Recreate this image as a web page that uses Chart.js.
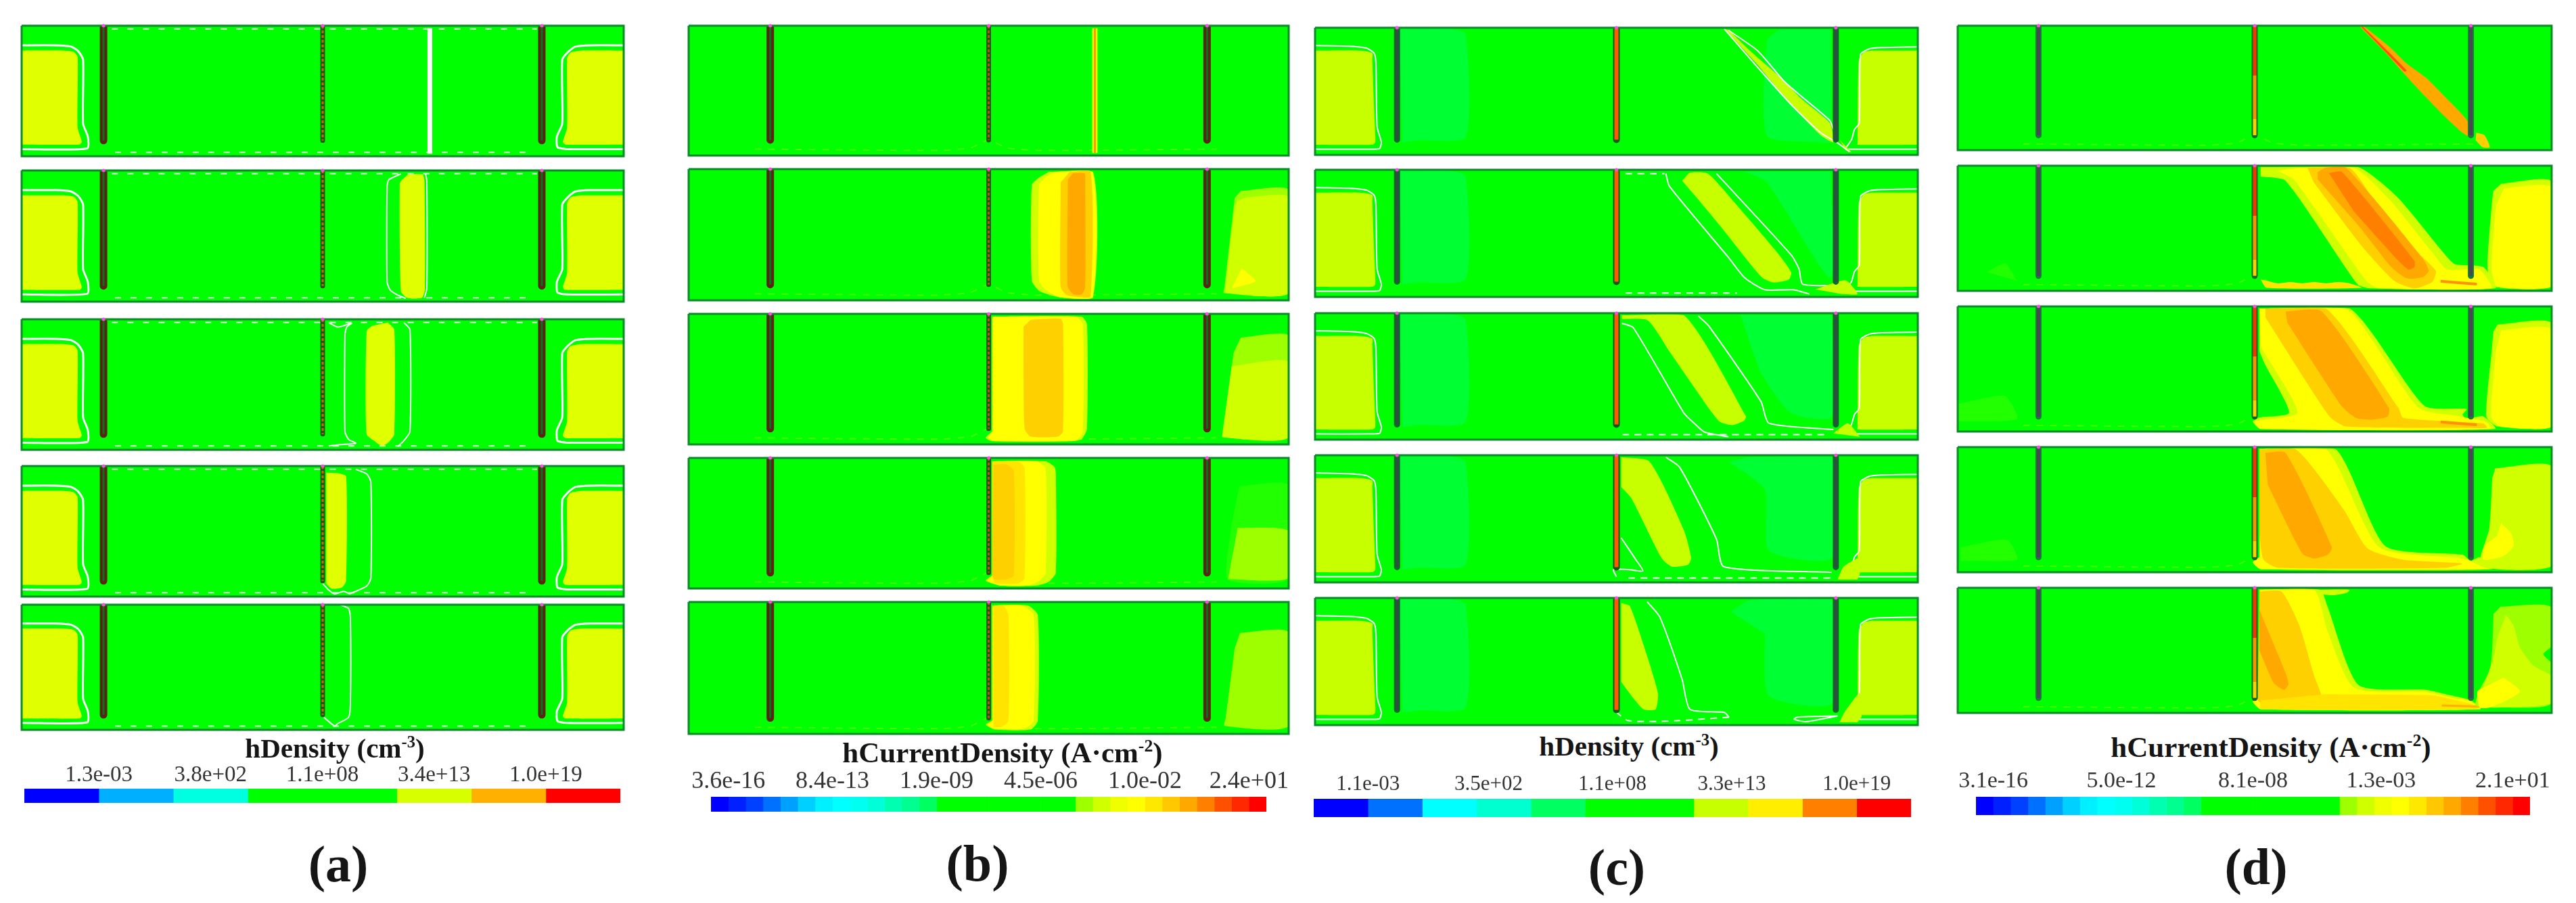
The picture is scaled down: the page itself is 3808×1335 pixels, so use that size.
<!DOCTYPE html>
<html>
<head>
<meta charset="utf-8">
<title>hDensity and hCurrentDensity</title>
<script src="https://cdn.jsdelivr.net/npm/chart.js@4/dist/chart.umd.min.js"></script>
<style>
body { margin: 0; background: #fff; width: 3808px; height: 1335px; overflow: hidden; position: relative; }
canvas { position: absolute; }
.cap { position: absolute; transform: translate(-50%, -50%); font-family: "Liberation Serif", serif; font-weight: bold; color: #151515; white-space: nowrap; }
.cap sup { font-size: 60%; line-height: 0; }
</style>
</head>
<body>
<script>
// shared device geometry, x and y in percent of the panel
var trenchX = [13.6, 50, 86.4];
var trenchDepth = 88;
var domain = [[0, 0], [100, 0], [100, 100], [0, 100], [0, 0]];
var dashTop = [[15, 2.5], [85.6, 2.5]];
var dashBot = [[15.5, 97], [84, 97]];
var faintBot = [[11, 95], [42, 96], [47, 94], [50, 88], [53, 94], [58, 96], [88, 95]];

// (a) hole density, source regions
var aSrcL = [[0, 19], [6.9, 19], [8.6, 20], [9.3, 24], [9.3, 78], [10, 89], [9.6, 91], [0, 91]];
var aSrcR = [[100, 19], [93, 19], [91.2, 20.5], [90.6, 25], [90.6, 78], [89.9, 89], [90.3, 91], [100, 91]];
var aCtrL = [[0, 15], [5.6, 15], [8.2, 16], [9.4, 19.5], [10.2, 26], [10.2, 75], [11, 85], [10.9, 94], [0, 94.5]];
var aCtrR = [[100, 15], [94.5, 15], [92, 16], [90.9, 19.5], [89.8, 26], [89.8, 75], [88.9, 85], [89, 93], [90.5, 94.5], [100, 94.5]];
var a1Strike = [[67.8, 2], [67.8, 98]];
var a2Fill = [[64.2, 3], [66.6, 3], [66.9, 8], [67, 90], [66.5, 97], [64, 97], [63, 92], [62.8, 10], [63.2, 7]];
var a2CtrL = [[63, 2.6], [61, 7], [60.7, 12], [60.7, 85], [61.2, 91], [62.5, 95], [63.8, 97.5]];
var a2CtrR = [[67.1, 2.6], [67.3, 8], [67.3, 90], [66.9, 97]];
var a3Fill = [[60.8, 2.5], [61.9, 8], [61.9, 88], [61, 94], [59.9, 97], [58.8, 94], [57.3, 88], [57.3, 9], [58.2, 5]];
var a3CtrL = [[51, 2.5], [52.5, 6], [54.8, 3], [54, 6], [53.7, 12], [53.7, 86], [54.3, 92], [55.5, 95], [53, 96], [51, 97]];
var a3CtrR = [[63.5, 2.5], [64.5, 8], [64.5, 86], [63.5, 93], [62.5, 97.5]];
var a4Fill = [[50.6, 5], [52.5, 5.5], [53.9, 8], [53.9, 88], [53.2, 93], [51.5, 94], [50.6, 90]];
var a4CtrR = [[55.5, 2.5], [57.3, 6], [58, 12], [58, 86], [57.3, 92], [55.5, 96], [54.5, 98]];
var a4CtrL = [[50, 90], [51, 95], [52, 98], [53.5, 96], [54.5, 98]];
var a5Ctr = [[52.9, 0], [54.3, 3], [54.6, 10], [54.6, 80], [54.3, 90], [52.5, 95], [52, 97], [50.2, 90]];

// (b) hole current density
var b1Outer = [[67.7, 2], [67.7, 98]];
var b2Lime = [[60, 2.2], [67.4, 2.2], [67.4, 97.8], [62, 97.8], [58.5, 93], [57.2, 85], [57.2, 12], [58.5, 6]];
var b2Yel = [[61, 2.2], [67.3, 2.2], [67.3, 97.8], [62, 97.8], [59.5, 92], [58.4, 85], [58.4, 12], [59.5, 6]];
var b2Gold = [[63.5, 2.2], [67, 2.4], [67, 97], [65, 97.5], [63, 96], [62, 90], [62, 10]];
var b2Org = [[64, 3.3], [66, 3.3], [66.1, 8], [66.1, 90], [65.5, 95.5], [64.2, 95.5], [63.2, 90], [63.2, 8]];
var b2Drain = [[92, 16.7], [100, 16], [100, 94.5], [89.2, 94.5], [89.3, 90], [90.8, 30], [91, 22]];
var b2DrainIn = [[93, 21.5], [100, 21.5], [100, 94.5], [89.5, 94.5], [89.5, 90], [91, 30], [91.5, 24]];
var b2Blob = [[92.2, 75.5], [94.5, 85.5], [90.5, 91]];
var b3Lime = [[50.6, 2.2], [65.5, 2.2], [66.4, 8], [66.4, 88], [65.5, 96], [64, 97.5], [50.5, 97.5], [49.5, 95], [50.6, 90]];
var b3Yel = [[50.6, 2.2], [64.5, 2.2], [65.7, 8], [65.7, 90], [64.5, 97], [51, 97.5], [50, 95], [50.6, 90]];
var b3Gold = [[57, 4.5], [62, 3.8], [62.4, 8], [62.4, 90], [61.5, 94], [57, 94], [56, 88], [55.8, 10]];
var b3Drain = [[92, 18.2], [100, 17], [100, 94.5], [89.2, 94.5], [89.2, 90], [90.8, 30]];
var b3DrainIn = [[90.5, 40], [100, 37], [100, 94.5], [89, 94.5], [89, 90]];
var b4Lime = [[50.6, 2.6], [59.5, 2.6], [61, 7], [61.2, 12], [61.2, 88], [60, 95], [58, 97.8], [52, 97.8], [49.5, 94], [50.6, 90]];
var b4Yel = [[50.6, 2.6], [58, 2.6], [59.5, 8], [59.5, 88], [58.5, 94], [56.5, 97.8], [52, 97.8], [49.8, 94], [50.6, 90]];
var b4Mid = [[50.6, 3], [55, 3], [56, 8], [56, 92], [55, 96], [51, 96], [50.6, 90]];
var b4Gold = [[50.8, 5], [53, 5], [54.2, 10], [54.2, 90], [53, 93], [51, 93], [50.6, 90]];
var b4Drain = [[91.8, 21.5], [100, 21], [100, 92.5], [89.9, 93], [90.5, 50]];
var b4DrainIn = [[91.5, 53.5], [100, 56], [100, 92], [89.9, 93]];
var b5Lime = [[50.6, 2.6], [56.5, 2.6], [58.2, 10], [58.2, 90], [57, 96.7], [51, 96.7], [49.5, 93], [50.6, 90]];
var b5Yel = [[50.6, 2.6], [55.5, 2.6], [57.5, 10], [57.5, 90], [56, 96], [51, 96], [49.8, 93], [50.6, 90]];
var b5Mid = [[50.8, 3], [52.5, 3], [53.3, 10], [53.3, 90], [52, 95], [50.8, 95]];
var b5Drain = [[91.9, 23.4], [100, 23], [100, 94], [89.3, 94], [89.5, 88], [91, 35]];

// (c) hole density, heavier channel
var cSrcL = [[0, 18], [7.5, 18], [9.5, 20], [9.5, 25], [9.9, 75], [10, 90], [9.5, 92], [0, 92]];
var cSrcR = [[100, 18], [92.5, 18], [91, 19.5], [90.2, 26], [90, 90], [90, 92], [100, 92]];
var cCtrL = [[0, 14], [5.5, 14.5], [8.5, 16], [9.8, 20], [10.1, 28], [10.3, 78], [11, 90], [10.7, 95], [9, 95.5], [0, 95.5]];
var cCtrR = [[100, 15], [94, 15.5], [92, 16.5], [90.5, 21], [90.3, 75], [89.5, 80], [89, 88], [88, 95]];
var cCtrRb = [[88.5, 95.5], [100, 95.5]];
var cBandL = [[14, 1], [22.5, 1], [25, 5], [25, 86], [17, 88.5], [14.5, 90]];
var c1BandR = [[77, 1.5], [75, 10], [75, 85], [84, 90], [85.5, 90], [85.5, 1.5]];
var c2BandR = [[71.3, 1.5], [75, 10], [85.5, 85], [85.5, 1.5]];
var c3BandR = [[70.6, 1.5], [74, 47], [79, 79], [85.7, 82], [85.7, 1.5]];
var c4BandR = [[68.6, 5], [74.6, 27], [75.3, 75], [85.7, 81], [85.7, 1.5], [72, 1.5]];
var c5BandR = [[69, 11], [72, 2], [85.7, 1.5], [85.7, 83], [75.3, 77], [74.6, 28]];
var c1Fill = [[68, 1], [68.6, 2], [72.6, 20], [77.4, 40], [80.7, 56], [85.4, 75], [86, 90], [84, 85], [78.7, 59], [73.4, 29]];
var c1Tail = [[87, 88], [89, 98], [88, 96]];
var c1CtrL = [[67.9, 1], [73.4, 31], [79.3, 62], [84, 83], [86.5, 90], [88.7, 97.7]];
var c1CtrR = [[68.6, 2], [73.4, 18], [77.8, 42], [80.7, 54], [85.4, 73], [86, 80]];
var c2Fill = [[60.9, 8.7], [62.2, 2.3], [65.2, 3], [69.6, 25.8], [76.6, 64.6], [79, 80.6], [78.6, 86.3], [76, 88.6], [74, 84], [67.2, 44], [63.6, 23.5]];
var c2CtrL = [[58.2, 3], [58.8, 13], [68.6, 69], [71.3, 85], [74.6, 94.3], [79.3, 94.3], [82, 97.7]];
var c2CtrR = [[66.6, 3], [79, 67], [80.3, 78], [80.9, 90], [86, 91]];
var c2Tail = [[83, 94], [88, 87], [90, 97.7], [87.4, 97.7]];
var c2Wig = [[51.5, 3], [58, 3]];
var c2WigB = [[51.5, 97], [70, 97]];
var c3Fill = [[50.9, 1.6], [61.2, 1.6], [71.5, 81.6], [71.2, 85], [69.2, 88.5], [67.2, 86], [65.6, 77], [58.9, 31], [55.2, 5.7], [50.9, 4.6]];
var c3CtrL = [[50.9, 8], [52.8, 11.5], [61.2, 79], [62.9, 87], [64.6, 94], [68.6, 97.7]];
var c3CtrR = [[63.6, 2.3], [65.3, 10], [74, 70], [75.3, 87], [86, 92]];
var c3Tail = [[86, 95], [88.4, 87], [90.4, 97.7]];
var c3WigB = [[51, 96], [85, 96]];
var c4Fill = [[50.8, 1.6], [55.5, 5], [61.2, 59], [62.4, 80.8], [61.9, 86], [59.2, 87.6], [57.5, 81], [52.5, 34], [50.8, 25]];
var c4CtrR = [[58.2, 1.6], [60.5, 9.5], [66.6, 66], [67.8, 87.6], [85.7, 92]];
var c4CtrS = [[50.8, 65], [53.2, 82], [54.4, 91], [52.2, 90], [49.5, 90], [50, 95.5]];
var c4WigB = [[52, 96.5], [86, 96.5]];
var c4Tail = [[86.7, 97.7], [87.7, 87.6], [90.4, 80.8], [90.4, 93], [90, 97.7]];
var c5Fill = [[50.8, 4], [52.2, 6.3], [54.5, 37], [56.9, 75], [56.5, 87.6], [54.5, 87.6], [52.5, 77], [50.8, 66]];
var c5CtrR = [[55.1, 3], [57.2, 15], [60.9, 64], [62.2, 87.6], [67.9, 90], [68.7, 93.7]];
var c5WigB = [[68.7, 93.7], [60, 96.6], [52, 96.6], [50, 90]];
var c5CtrB = [[86.7, 92.8], [80, 93.7], [79.5, 95.4], [81.4, 97.3], [86.7, 92.8]];
var c5Tail = [[87, 97.7], [88, 88.7], [90.4, 75], [90.7, 93], [90, 97.7]];

// (d) hole current density, heavier channel
var d1Org = [[67.7, 0.7], [68.4, 0.7], [72.8, 17.4], [75.5, 30], [78.9, 42], [81.6, 55], [85.7, 75.6], [86.4, 89.5], [85, 86], [81.6, 71], [76.9, 47.7], [72.1, 22]];
var d1Red = [[67.9, 0.7], [68.2, 0.7], [75.6, 36], [75.2, 37]];
var d1Tail = [[87.3, 86], [88.7, 88], [89.6, 97.7], [88.4, 97.7], [87.2, 92]];
var d2Lime = [[51, 8.6], [55.2, 12], [67.3, 94.6], [69.4, 98], [90.5, 98], [88.5, 81], [83.7, 78.6], [81.7, 69], [74, 25], [67.3, 1], [51, 1]];
var d2Yel = [[53.8, 4], [56.6, 11], [68.8, 92], [70.9, 98], [89.8, 98], [87.8, 83], [82.4, 83], [80.2, 71], [72.7, 27], [66.7, 1.6], [57.2, 1.6]];
var d2Gold = [[58.9, 1.6], [66, 1.6], [70.7, 32], [77.4, 69], [80.5, 84], [79.9, 93], [76.9, 98], [73.5, 92], [68, 64], [59.9, 13]];
var d2Org = [[60.6, 5], [62, 1.6], [65.4, 1.6], [78.3, 74], [79.3, 84], [78.3, 89], [75.6, 90], [73, 81], [67.5, 48], [60.6, 11]];
var d2Core = [[62.5, 6], [64.7, 5], [76.9, 76], [76.9, 81], [75.9, 83], [74.2, 76], [66.7, 36.5]];
var d2Drain = [[91.5, 14.4], [100, 12.8], [100, 96.5], [90.2, 96.5], [89.2, 81], [89.9, 32], [90.2, 20]];
var d2DrainIn = [[92, 18], [100, 17.5], [100, 96.5], [90.8, 96.5], [89.9, 81], [90.6, 32]];
var d2Bot = [[51, 91], [52, 97.5], [68, 97.5], [66, 94], [64, 93], [62, 94], [60, 93], [58, 94], [56, 93], [54, 94], [52, 92]];
var d2Streak = [[81.3, 92.3], [87.4, 94.6]];
var d2Faint = [[4.9, 85], [8, 78], [10, 92]];
var d3Lime = [[50.8, 1.6], [66, 1.6], [78.6, 79.5], [85.7, 82], [85, 86.5], [85.7, 90], [88.4, 87.7], [90.5, 98], [51, 98], [49.7, 92], [50.8, 88.8], [55.8, 85], [51.7, 46], [50.8, 36]];
var d3Yel = [[50.8, 1.6], [65.4, 1.6], [77.6, 81], [84.3, 87.7], [89, 92.3], [89.8, 98], [51, 98], [50, 92], [57.2, 85], [51, 32]];
var d3Gold = [[51.8, 1.6], [62, 1.6], [74.2, 81], [75, 89], [88.5, 93.5], [89.1, 97], [85, 97], [65.4, 96], [62.6, 88], [51.8, 8.6]];
var d3Org = [[55.2, 4], [61.3, 4], [72.6, 81], [72.4, 88], [69.7, 90.5], [67, 89], [64.6, 79.5], [55.5, 13]];
var d3Drain = [[90.9, 14.4], [100, 13.5], [100, 96], [90.9, 96], [89, 88], [89.9, 36], [90.2, 20]];
var d3DrainIn = [[91.5, 19], [100, 18.5], [100, 96], [91.4, 96], [89.8, 88], [90.6, 36]];
var d3Faint = [[0, 78], [7.9, 71.4], [10, 90], [0, 92]];
var d4Lime = [[50.8, 1.5], [63.6, 1.5], [72, 79], [85, 86], [86.4, 91], [87.8, 88], [90, 97.5], [51, 97.5], [49.7, 92], [50.8, 88]];
var d4Yel = [[50.8, 1.5], [62, 1.5], [71, 80], [85, 89], [89, 96.5], [89.5, 97.5], [51, 97.5], [49.7, 92], [50.8, 88]];
var d4Gold = [[50.8, 2], [57, 2], [65, 50], [69, 81], [75, 90], [85, 93], [82, 96.5], [54, 96.5], [51.5, 90], [50.8, 70]];
var d4Org = [[51.8, 4.6], [55.2, 4.6], [63, 80], [62.3, 86], [60, 89], [58, 85], [52.2, 30]];
var d4Drain = [[90.5, 17], [100, 15.5], [100, 95], [88, 95], [89.5, 65], [90, 25]];
var d4Blob = [[91.5, 61], [93.2, 69], [93.6, 79], [91.9, 87], [88.5, 90], [88.8, 79], [90.8, 71]];
var d4Faint = [[0.5, 80], [8.3, 74], [10, 90], [0.5, 91]];
var d5Top = [[61, 1.6], [66, 1.6], [65.5, 4], [63, 6], [61, 5]];
var d5Lime = [[50.8, 1.5], [61, 1.5], [62.2, 14], [67.5, 77.7], [78.8, 81.5], [83, 86], [86.4, 90], [88, 97], [51, 97], [49.7, 91], [50.8, 88]];
var d5Yel = [[50.8, 1.5], [60, 1.5], [62.2, 33.7], [66.7, 79.8], [78.8, 83.3], [83, 87.8], [86, 90], [88, 97], [51, 97], [49.7, 91], [50.8, 88]];
var d5Gold = [[50.8, 3], [54.5, 3], [57.5, 30], [60, 70], [61.3, 88], [60, 93], [52, 95], [50.5, 90]];
var d5Band = [[62, 85], [80, 86], [84, 90], [88, 95], [87, 97], [51, 97], [51, 90]];
var d5Org = [[50.8, 17.7], [51.8, 29], [55.2, 68], [55.7, 77], [54.9, 81.6], [53.2, 76], [50.8, 50]];
var d5Streak = [[81.5, 94], [87.9, 95]];
var d5Drain = [[91.4, 15], [100, 16], [100, 92], [91.7, 95.7], [87.2, 94], [87.9, 81.6], [89.6, 65.6], [90, 48], [90.2, 21]];
var d5Peak = [[92.3, 21.3], [93.6, 30], [94.7, 48], [96.9, 62], [100, 71], [100, 92], [91.7, 95.7], [87.6, 94], [88.4, 81], [90.2, 56], [90.9, 39]];
var d5Hole = [[100, 47], [98.6, 53], [100, 60]];
var d5Blob = [[91.9, 71.8], [94.7, 82.4], [93, 88.7], [89.6, 95.7], [87.9, 95.7], [87.5, 83], [89.3, 78]];

// colour bars: band colours, tick places in band units and tick labels
var barColorsA = ['#0000ff', '#00b0ff', '#00ffe0', '#00ff00', '#00ff00', '#d8ff00', '#ffb000', '#ff0000'];
var tickPosA = [1, 2.5, 4, 5.5, 7];
var tickLabelsA = ['1.3e-03', '3.8e+02', '1.1e+08', '3.4e+13', '1.0e+19'];
var barColorsB = ['#0000ff', '#0020ff', '#0040ff', '#0070ff', '#00a0ff', '#00d0ff', '#00f0ff', '#00ffff', '#00fff0', '#00ffd8', '#00ffb0', '#00ff90', '#00ff60',
    '#00ff00', '#00ff00', '#00ff00', '#00ff00', '#00ff00', '#00ff00', '#00ff00', '#00ff00',
    '#9dff00', '#d0ff00', '#f0ff00', '#ffff00', '#ffe800', '#ffc800', '#ffa800', '#ff8000', '#ff5000', '#ff2800', '#ff0000'];
var tickPosB = [1, 7, 13, 19, 25, 31];
var tickLabelsB = ['3.6e-16', '8.4e-13', '1.9e-09', '4.5e-06', '1.0e-02', '2.4e+01'];
var barColorsC = ['#0000ff', '#0070ff', '#00ffff', '#00ffd0', '#00ff60', '#00ff00', '#00ff00', '#c8ff00', '#ffee00', '#ff8000', '#ff0000'];
var tickPosC = [1, 3.22, 5.5, 7.7, 10];
var tickLabelsC = ['1.1e-03', '3.5e+02', '1.1e+08', '3.3e+13', '1.0e+19'];
var tickPosD = [1, 8.4, 16, 23.4, 31];
var tickLabelsD = ['3.1e-16', '5.0e-12', '8.1e-08', '1.3e-03', '2.1e+01'];

// layout in page pixels
var colLeft = [31, 1017, 1943, 2893];
var colWidth = [892, 889, 893, 880];
var tops = [[37, 251, 471, 688, 893], [37, 249, 463, 676, 889], [40, 250, 462, 672, 883], [37, 244, 452, 660, 868]];
var bottoms = [[232, 447, 666, 883, 1080], [231, 445, 658, 871, 1086], [230, 440, 651, 862, 1073], [223, 431, 639, 847, 1055]];

var GREEN = '#00ff00', WHITE = '#ffffff';
var LIME = '#9dff00', LEMON = '#d0ff00', YEL = '#ffff00', MID = '#ffe400', GOLD = '#ffd000', ORG = '#ffa800', CORE = '#ff7f00';
var SRC_A = '#e0ff00', SRC_C = '#c8ff00', BAND = '#00ff33', FAINT = '#22ff00';

function F(arr, color) { return { pts: arr, color: color, filled: true }; }
function L(arr, color, width, dash) { return { pts: arr, color: color || WHITE, width: width || 2, dash: dash }; }

var polygonFill = {
    id: 'polygonFill',
    beforeDatasetDraw: function (chart, args) {
        var ds = chart.data.datasets[args.index];
        if (!ds.polyColor) return;
        var ctx = chart.ctx, a = chart.chartArea, line = args.meta.dataset;
        ctx.save();
        ctx.beginPath();
        ctx.rect(a.left, a.top, a.width, a.height);
        ctx.clip();
        line.updateControlPoints(a, 'x');
        ctx.beginPath();
        line.path(ctx);
        ctx.closePath();
        ctx.fillStyle = ds.polyColor;
        ctx.fill();
        ctx.restore();
    }
};

var trenchStyles = [
    { side: ['#5c2410', '#0a7020', 11, 3], mid: ['#1a5a10', '#c86a00', 7, 3, [4, 3]] },
    { side: ['#5c2410', '#0a7020', 11, 3], mid: ['#1a5a10', '#c0500a', 7, 3, [4, 3]] },
    { side: ['#0a6a2a', '#2f4f3f', 9, 5], mid: ['#0a5a1a', '#ff5a00', 10, 6] },
    { side: ['#1a7a3a', '#444a50', 9, 5], mid: ['#0a6a2a', '#ff8a00', 9, 5] }
];

function addCanvas(left, top, w, h) {
    var c = document.createElement('canvas');
    c.width = w;
    c.height = h;
    c.style.left = left + 'px';
    c.style.top = top + 'px';
    c.style.width = w + 'px';
    c.style.height = h + 'px';
    document.body.appendChild(c);
    return c;
}

function drawPanel(col, row, layers) {
    var pad = 5, inset = 1;
    var x0 = colLeft[col], y0 = tops[col][row], w = colWidth[col], h = bottoms[col][row] - y0;
    var c = addCanvas(x0 - pad, y0 - pad, w + pad * 2, h + pad * 2);
    var sets = [];

    function push(layer, tension, extra) {
        var ds = {
            data: layer.pts.map(function (p) { return { x: p[0], y: p[1] }; }),
            showLine: true,
            pointRadius: 0,
            tension: tension,
            borderWidth: layer.filled ? 0 : layer.width,
            borderColor: layer.filled ? 'transparent' : layer.color,
            borderDash: layer.dash || []
        };
        if (layer.filled) ds.polyColor = layer.color;
        sets.push(Object.assign(ds, extra || {}));
    }

    push(F(domain, GREEN), 0);
    layers.forEach(function (l) { push(l, 0.2); });

    // trenches go on top of the contours
    var st = trenchStyles[col];
    trenchX.forEach(function (tx, i) {
        var s = i === 1 ? st.mid : st.side;
        var seg = [[tx, 0], [tx, trenchDepth]];
        push(L(seg, s[0], s[2]), 0, { borderCapStyle: 'round' });
        if (col === 3 && i === 1) {
            push(L([[tx, 0], [tx, 40]], '#ff3000', s[3]), 0);
            push(L([[tx, 40], [tx, 75]], '#ff9000', s[3]), 0);
            push(L([[tx, 75], [tx, trenchDepth]], '#ffd000', s[3]), 0);
        } else {
            push(L(seg, s[1], s[3], s[4]), 0);
        }
    });

    // outline of the device and the small contact marks
    sets.push({ data: domain.map(function (p) { return { x: p[0], y: p[1] }; }), showLine: true, pointRadius: 0,
        borderColor: '#0a8a28', borderWidth: 3, clip: false, tension: 0 });
    sets.push({ data: trenchX.map(function (tx) { return { x: tx, y: 0 }; }), showLine: false, pointRadius: 2.5,
        backgroundColor: '#ff4ce0', borderWidth: 0, clip: false });

    return new Chart(c, {
        type: 'scatter',
        data: { datasets: sets.reverse() }, // first dataset is drawn last
        options: {
            responsive: false,
            animation: false,
            layout: { padding: pad + inset },
            plugins: { legend: { display: false }, tooltip: { enabled: false } },
            scales: {
                x: { display: false, min: 0, max: 100 },
                y: { display: false, min: 0, max: 100, reverse: true }
            }
        },
        plugins: [polygonFill]
    });
}

function drawBar(left, top, w, h, colors, tickPos, tickLabels, fontPx, tickPad) {
    var side = 130, axisH = 46;
    var c = addCanvas(left - side, top - axisH, w + side * 2, h + axisH);
    new Chart(c, {
        type: 'bar',
        data: {
            labels: [''],
            datasets: colors.map(function (col) {
                return { data: [1], backgroundColor: col, borderWidth: 0, barPercentage: 1, categoryPercentage: 1, stack: 'bar' };
            })
        },
        options: {
            indexAxis: 'y',
            responsive: false,
            animation: false,
            layout: { padding: { left: side, right: side, top: 0, bottom: 0 } },
            plugins: { legend: { display: false }, tooltip: { enabled: false } },
            scales: {
                y: { display: false, stacked: true },
                x: {
                    stacked: true,
                    position: 'top',
                    min: 0,
                    max: colors.length,
                    grid: { display: false, drawTicks: false },
                    border: { display: false },
                    afterFit: function (s) { s.height = axisH; },
                    afterBuildTicks: function (s) { s.ticks = tickPos.map(function (v) { return { value: v }; }); },
                    ticks: {
                        autoSkip: false,
                        maxRotation: 0,
                        padding: tickPad,
                        color: '#333',
                        font: { family: 'Liberation Serif', size: fontPx },
                        callback: function (v, i) { return tickLabels[i]; }
                    }
                }
            }
        }
    });
}

function caption(html, cx, cy, px) {
    var d = document.createElement('div');
    d.className = 'cap';
    d.innerHTML = html;
    d.style.left = cx + 'px';
    d.style.top = cy + 'px';
    d.style.fontSize = px + 'px';
    document.body.appendChild(d);
}

// white contour sets that repeat across a column
function aBase() {
    return [F(aSrcL, SRC_A), F(aSrcR, SRC_A), L(aCtrL, WHITE, 3), L(aCtrR, WHITE, 3), L(dashBot, '#d8ffd8', 2, [9, 14])];
}
function cBase(bandR) {
    return [F(cBandL, BAND), F(bandR, BAND), F(cSrcL, SRC_C), F(cSrcR, SRC_C), L(cCtrL), L(cCtrR), L(cCtrRb)];
}
var faint = L(faintBot, '#44ff00', 2, [10, 10]);

drawPanel(0, 0, aBase().concat([L(dashTop, '#d8ffd8', 2, [9, 14]), L(a1Strike, WHITE, 7)]));
drawPanel(0, 1, aBase().concat([L(dashTop, '#d8ffd8', 2, [9, 14]), F(a2Fill, SRC_A), L(a2CtrL), L(a2CtrR)]));
drawPanel(0, 2, aBase().concat([L(dashTop, '#d8ffd8', 2, [9, 14]), F(a3Fill, SRC_A), L(a3CtrL), L(a3CtrR)]));
drawPanel(0, 3, aBase().concat([L(dashTop, '#d8ffd8', 2, [9, 14]), F(a4Fill, SRC_A), L(a4CtrR), L(a4CtrL)]));
drawPanel(0, 4, aBase().concat([L(a5Ctr)]));

drawPanel(1, 0, [faint, L(b1Outer, '#e8ff00', 8), L(b1Outer, '#ff9900', 3)]);
drawPanel(1, 1, [faint, F(b2Lime, LEMON), F(b2Yel, YEL), F(b2Gold, GOLD), F(b2Org, ORG), F(b2Drain, LIME), F(b2DrainIn, LEMON), F(b2Blob, YEL)]);
drawPanel(1, 2, [faint, F(b3Lime, LEMON), F(b3Yel, YEL), F(b3Gold, GOLD), F(b3Drain, LIME), F(b3DrainIn, LEMON)]);
drawPanel(1, 3, [faint, F(b4Lime, LEMON), F(b4Yel, YEL), F(b4Mid, MID), F(b4Gold, GOLD), F(b4Drain, '#22ff00'), F(b4DrainIn, LIME)]);
drawPanel(1, 4, [faint, F(b5Lime, LEMON), F(b5Yel, YEL), F(b5Mid, MID), F(b5Drain, LIME)]);

drawPanel(2, 0, cBase(c1BandR).concat([F(c1Fill, SRC_C), F(c1Tail, SRC_C), L(c1CtrL), L(c1CtrR)]));
drawPanel(2, 1, cBase(c2BandR).concat([F(c2Fill, SRC_C), L(c2CtrL), L(c2CtrR), F(c2Tail, SRC_C), L(c2Wig, WHITE, 2, [10, 8]), L(c2WigB, WHITE, 2, [10, 8])]));
drawPanel(2, 2, cBase(c3BandR).concat([F(c3Fill, SRC_C), L(c3CtrL), L(c3CtrR), F(c3Tail, SRC_C), L(c3WigB, WHITE, 2, [10, 8])]));
drawPanel(2, 3, cBase(c4BandR).concat([F(c4Fill, SRC_C), L(c4CtrR), L(c4CtrS), L(c4WigB, WHITE, 2, [10, 8]), F(c4Tail, SRC_C)]));
drawPanel(2, 4, cBase(c5BandR).concat([F(c5Fill, SRC_C), L(c5CtrR), L(c5WigB, WHITE, 2, [10, 8]), L(c5CtrB), F(c5Tail, SRC_C)]));

drawPanel(3, 0, [faint, F(d1Org, ORG), F(d1Red, '#ff5000'), F(d1Tail, GOLD)]);
drawPanel(3, 1, [faint, F(d2Faint, FAINT), F(d2Lime, LEMON), F(d2Yel, YEL), F(d2Gold, GOLD), F(d2Org, ORG), F(d2Core, CORE), F(d2Drain, LEMON), F(d2DrainIn, YEL), F(d2Bot, MID), L(d2Streak, '#ff9000', 4)]);
drawPanel(3, 2, [faint, F(d3Faint, FAINT), F(d3Lime, LEMON), F(d3Yel, YEL), F(d3Gold, GOLD), F(d3Org, ORG), F(d3Drain, LEMON), F(d3DrainIn, YEL), L(d2Streak, '#ff9000', 4)]);
drawPanel(3, 3, [faint, F(d4Faint, FAINT), F(d4Lime, LEMON), F(d4Yel, YEL), F(d4Gold, GOLD), F(d4Org, ORG), F(d4Drain, LEMON), F(d4Blob, YEL)]);
drawPanel(3, 4, [faint, F(d5Top, LEMON), F(d5Lime, LEMON), F(d5Yel, YEL), F(d5Gold, GOLD), F(d5Band, MID), F(d5Org, ORG), L(d5Streak, '#ffb000', 3), F(d5Drain, LIME), F(d5Peak, LEMON), F(d5Hole, GREEN), F(d5Blob, YEL)]);

drawBar(36, 1166, 881, 21, barColorsA, tickPosA, tickLabelsA, 33, 0);
drawBar(1051, 1178, 821, 22, barColorsB, tickPosB, tickLabelsB, 36, 1);
drawBar(1942, 1181, 883, 27, barColorsC, tickPosC, tickLabelsC, 31, 3);
drawBar(2921, 1178, 819, 27, barColorsB, tickPosD, tickLabelsD, 34, 3);

caption('hDensity (cm<sup>-3</sup>)', 495, 1106, 41);
caption('hCurrentDensity (A·cm<sup>-2</sup>)', 1482, 1112, 43);
caption('hDensity (cm<sup>-3</sup>)', 2408, 1103, 41);
caption('hCurrentDensity (A·cm<sup>-2</sup>)', 3357, 1104, 43);
caption('(a)', 500, 1277, 76);
caption('(b)', 1445, 1276, 76);
caption('(c)', 2390, 1282, 76);
caption('(d)', 3335, 1281, 76);
</script>
</body>
</html>
